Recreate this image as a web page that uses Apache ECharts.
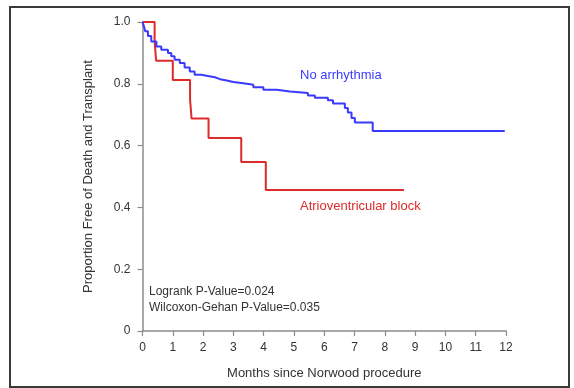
<!DOCTYPE html>
<html>
<head>
<meta charset="utf-8">
<script src="https://cdn.jsdelivr.net/npm/echarts@6/dist/echarts.min.js"></script>
<style>
  html, body { margin: 0; padding: 0; background: #fff; }
  #chart { width: 574px; height: 388px; }
</style>
</head>
<body>
<div id="chart"></div>
<script>
// Kaplan-Meier steps (time in months, proportion after the drop)
const blueTimes = [0, 0.05, 0.09, 0.18, 0.29, 0.46, 0.62, 0.84, 0.95, 1.06, 1.23, 1.39, 1.56, 1.72, 1.94, 2.16, 2.39, 2.56, 2.78, 3.0, 3.33, 3.66, 3.99, 4.43, 4.87, 5.46, 5.69, 6.12, 6.29, 6.68, 6.78, 6.9, 7.01, 7.6, 11.96];
const blueSurv = [1.0, 0.985, 0.97, 0.955, 0.937, 0.921, 0.91, 0.9, 0.889, 0.878, 0.867, 0.853, 0.84, 0.829, 0.825, 0.821, 0.815, 0.811, 0.806, 0.802, 0.797, 0.789, 0.781, 0.775, 0.77, 0.762, 0.755, 0.747, 0.736, 0.722, 0.707, 0.689, 0.675, 0.647, 0.647];

const redTimes = [0, 0.4, 0.45, 1.0, 1.57, 1.62, 2.18, 3.26, 4.07, 8.63];
const redSurv = [1.0, 0.9375, 0.875, 0.8125, 0.75, 0.6875, 0.625, 0.547, 0.456, 0.456];

const yTicks = [0, 0.2, 0.4, 0.6, 0.8, 1.0];
const xTicks = [0, 1, 2, 3, 4, 5, 6, 7, 8, 9, 10, 11, 12];

const pValues = ['Logrank P-Value=0.024', 'Wilcoxon-Gehan P-Value=0.035'];

const zip = (xs, ys) => xs.map((x, i) => [x, ys[i]]);

const font = 'Liberation Sans, Arial, sans-serif';
const axisGray = '#8c8c8c';

const myChart = echarts.init(document.getElementById('chart'), null, { renderer: 'canvas' });

const option = {
  backgroundColor: '#fff',
  animation: false,
  grid: { left: 142.5, right: 68, top: 22, bottom: 57 },
  xAxis: {
    type: 'value',
    min: xTicks[0],
    max: xTicks[xTicks.length - 1],
    interval: 1,
    name: 'Months since Norwood procedure',
    nameLocation: 'middle',
    nameGap: 36,
    nameTextStyle: { fontFamily: font, fontSize: 13, color: '#333' },
    axisLine: { lineStyle: { color: axisGray, width: 1.5 } },
    axisTick: { show: true, length: 5, lineStyle: { color: axisGray, width: 1.2 } },
    axisLabel: { fontFamily: font, fontSize: 12, color: '#333', margin: 11 },
    splitLine: { show: false }
  },
  yAxis: {
    type: 'value',
    min: yTicks[0],
    max: yTicks[yTicks.length - 1],
    interval: 0.2,
    name: 'Proportion Free of Death and Transplant',
    nameLocation: 'middle',
    nameGap: 48,
    nameTextStyle: { fontFamily: font, fontSize: 13, color: '#333' },
    axisLine: { show: true, lineStyle: { color: axisGray, width: 1.5 } },
    axisTick: { show: true, length: 5, lineStyle: { color: axisGray, width: 1.2 } },
    axisLabel: {
      fontFamily: font, fontSize: 12, color: '#333', margin: 12,
      formatter: v => (v === 0 ? '0' : v.toFixed(1))
    },
    splitLine: { show: false }
  },
  series: [
    {
      name: 'No arrhythmia',
      type: 'line',
      step: 'end',
      showSymbol: false,
      data: zip(blueTimes, blueSurv),
      lineStyle: { color: '#3a3aff', width: 2 },
      z: 3
    },
    {
      name: 'Atrioventricular block',
      type: 'line',
      step: 'end',
      showSymbol: false,
      data: zip(redTimes, redSurv),
      lineStyle: { color: '#dd2a2a', width: 2 },
      z: 2
    }
  ],
  graphic: [
    {
      type: 'rect',
      shape: { x: 10, y: 7, width: 559, height: 380 },
      style: { fill: null, stroke: '#3a3a3a', lineWidth: 2 },
      silent: true
    },
    {
      type: 'text', left: 300, top: 69,
      style: { text: 'No arrhythmia', fill: '#3a3aff', font: '13px ' + font }
    },
    {
      type: 'text', left: 300, top: 200,
      style: { text: 'Atrioventricular block', fill: '#dd2a2a', font: '13px ' + font }
    },
    {
      type: 'text', left: 149, top: 286,
      style: { text: pValues[0], fill: '#333', font: '12px ' + font }
    },
    {
      type: 'text', left: 149, top: 302,
      style: { text: pValues[1], fill: '#333', font: '12px ' + font }
    }
  ]
};

myChart.setOption(option);
</script>
</body>
</html>
